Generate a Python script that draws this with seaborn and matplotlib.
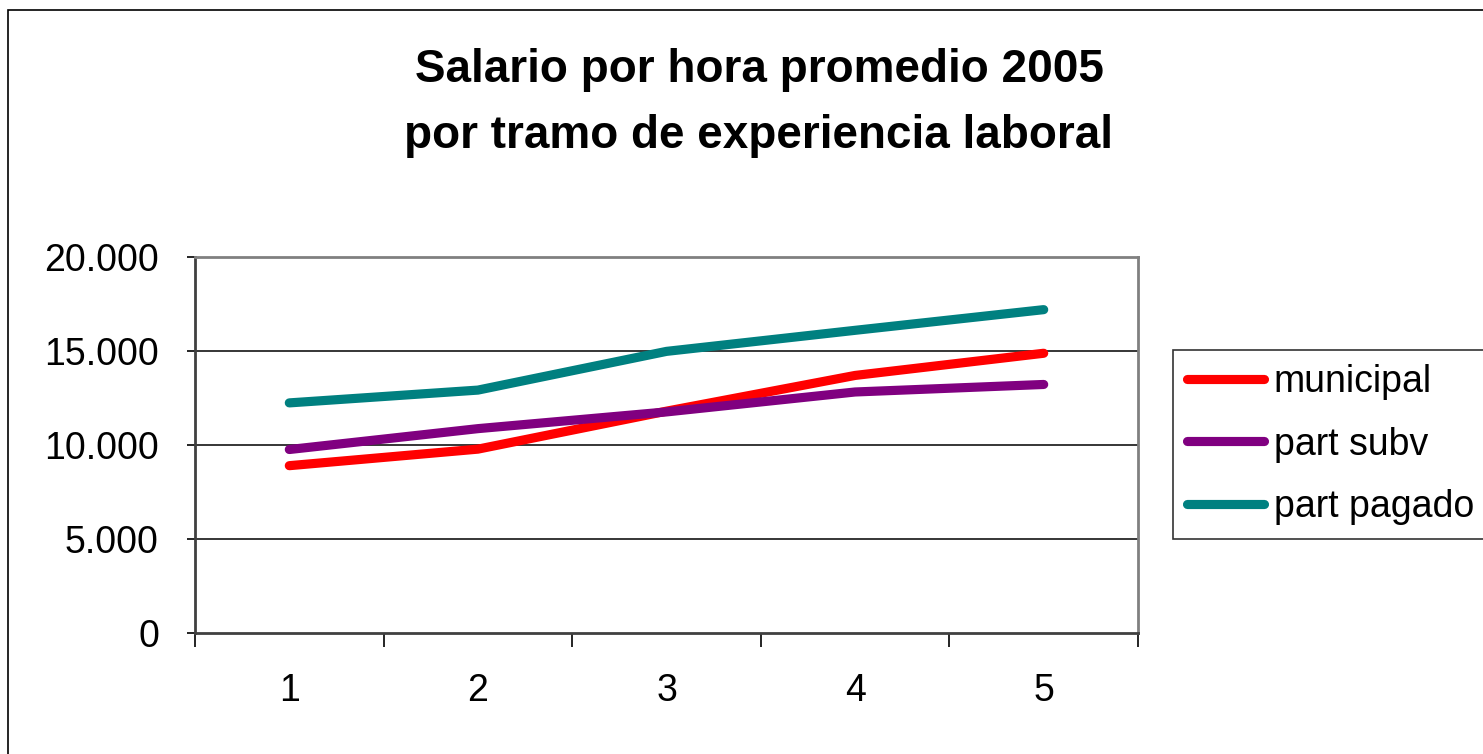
import pandas as pd
import matplotlib
matplotlib.use("Agg")
import matplotlib.pyplot as plt
import matplotlib.ticker as mticker
from matplotlib.patches import Rectangle
import seaborn as sns

# data
tramos = [1, 2, 3, 4, 5]
municipal = [8900, 9780, 11800, 13700, 14880]
part_subv = [9760, 10870, 11760, 12820, 13220]
part_pagado = [12240, 12920, 14980, 16100, 17200]
series_names = ["municipal", "part subv", "part pagado"]
colors = ["#FF0000", "#800080", "#008080"]
ytick_vals = [0, 5000, 10000, 15000, 20000]
ytick_labels = ["0", "5.000", "10.000", "15.000", "20.000"]

df = pd.DataFrame({
    "tramo": tramos * 3,
    "pos": list(range(len(tramos))) * 3,
    "salario": municipal + part_subv + part_pagado,
    "serie": [s for s in series_names for _ in tramos],
})

sns.set_theme(style="white")
plt.rcParams["font.family"] = ["Liberation Sans", "DejaVu Sans"]
plt.rcParams["text.color"] = "black"
plt.rcParams["xtick.color"] = "black"
plt.rcParams["ytick.color"] = "black"
plt.rcParams["xtick.labelcolor"] = "black"
plt.rcParams["ytick.labelcolor"] = "black"

fig = plt.figure(figsize=(14.83, 7.54), dpi=100)
ax = fig.add_axes([195 / 1483, 1 - 633 / 754, (1138 - 195) / 1483, (633 - 257) / 754])

lw = 6.6
sns.lineplot(data=df, x="pos", y="salario", hue="serie", palette=colors,
             hue_order=series_names, linewidth=lw, ax=ax, legend=False,
             solid_capstyle="round")

ax.set_xlim(-0.5, len(tramos) - 0.5)
ax.set_ylim(0, 20000)
ax.set_xlabel("")
ax.set_ylabel("")

# y axis
ax.set_yticks(ytick_vals)
ax.set_yticklabels(ytick_labels, fontsize=27)
ax.tick_params(axis="y", direction="out", length=6, width=1.2, color="black",
               pad=20, left=True)
for v in ytick_vals[1:-1]:
    ax.axhline(v, color="black", linewidth=1.1, zorder=0)

# x axis: ticks on boundaries, labels at centres
ax.xaxis.set_major_locator(mticker.FixedLocator([i - 0.5 for i in range(len(tramos) + 1)]))
ax.xaxis.set_major_formatter(mticker.NullFormatter())
ax.xaxis.set_minor_locator(mticker.FixedLocator(list(range(len(tramos)))))
ax.xaxis.set_minor_formatter(mticker.FixedFormatter([str(t) for t in tramos]))
ax.tick_params(axis="x", which="major", direction="out", length=10, width=1.2,
               color="black", bottom=True)
ax.tick_params(axis="x", which="minor", length=0, pad=29, labelsize=27, bottom=True)

for side in ["top", "right"]:
    ax.spines[side].set_color("#808080")
    ax.spines[side].set_linewidth(2)
for side in ["left", "bottom"]:
    ax.spines[side].set_color("#404040")
    ax.spines[side].set_linewidth(2)
    ax.spines[side].set_visible(True)

# legend
handles = [plt.Line2D([0], [0], color=c, linewidth=lw, solid_capstyle="round") for c in colors]
leg = fig.legend(handles, series_names, loc="upper left",
                 bbox_to_anchor=(1173 / 1483, 1 - 350 / 754), bbox_transform=fig.transFigure,
                 fontsize=27, frameon=True, fancybox=False, shadow=False,
                 handlelength=2.05, handletextpad=0.25, labelspacing=0.7,
                 borderpad=0.38, borderaxespad=0)
leg.get_frame().set_edgecolor("black")
leg.get_frame().set_linewidth(1.2)

# title
fig.text(759 / 1483, 1 - 103 / 754,
         "Salario por hora promedio 2005\npor tramo de experiencia laboral",
         ha="center", va="center", fontsize=33, fontweight="bold", linespacing=1.62)

# outer chart border
fig.patches.append(Rectangle((8 / 1483, -0.1), 1.2, 1 - 10 / 754 + 0.1,
                             transform=fig.transFigure, fill=False,
                             edgecolor="black", linewidth=1.2))

fig.savefig("out.png", dpi=100, facecolor="white")
